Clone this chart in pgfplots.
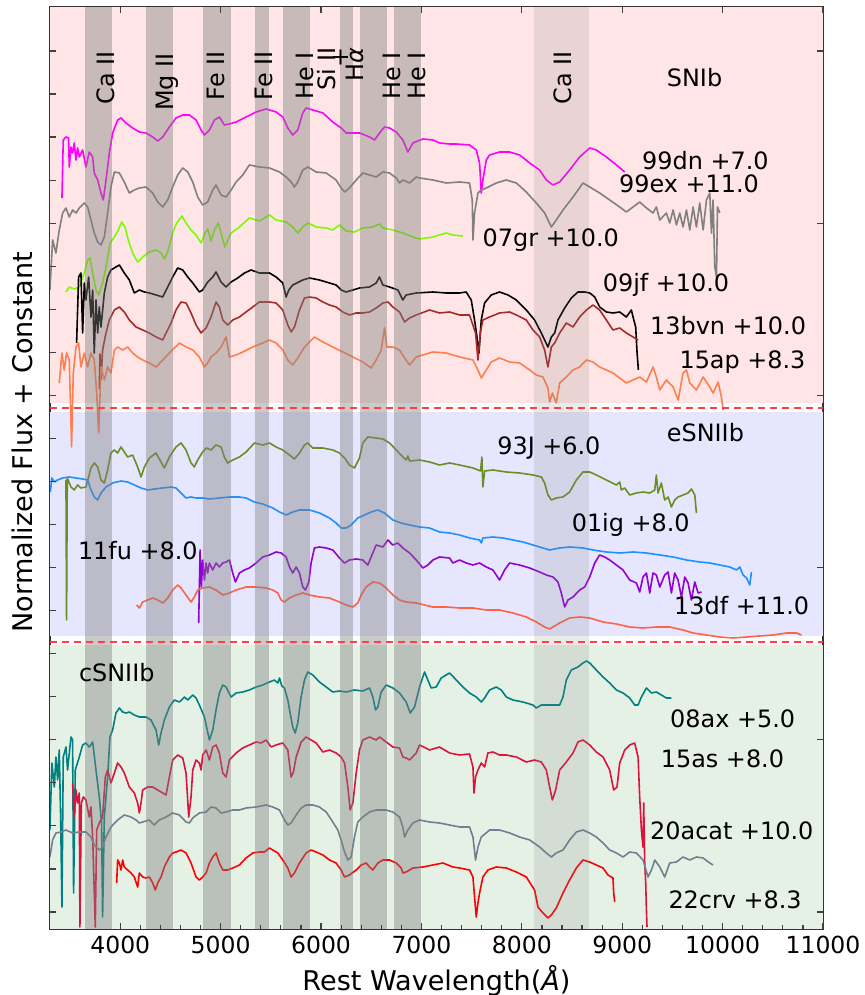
\documentclass[border=0pt]{standalone}
\usepackage{fontspec}
\setmainfont{DejaVu Sans}
\usepackage{pgfplots}
\pgfplotsset{compat=1.18}

\definecolor{bgpink}{RGB}{255,229,229}
\definecolor{bgblue}{RGB}{230,230,255}
\definecolor{bggreen}{RGB}{229,241,229}
\definecolor{cmag}{RGB}{255,0,255}
\definecolor{cgray}{RGB}{128,128,128}
\definecolor{clawn}{RGB}{124,252,0}
\definecolor{cbrown}{RGB}{165,42,42}
\definecolor{ccoral}{RGB}{255,127,80}
\definecolor{colive}{RGB}{107,142,35}
\definecolor{cdodger}{RGB}{30,144,255}
\definecolor{cviolet}{RGB}{148,0,211}
\definecolor{ctomato}{RGB}{255,99,71}
\definecolor{cteal}{RGB}{0,128,128}
\definecolor{ccrimson}{RGB}{220,20,60}
\definecolor{cslate}{RGB}{112,128,144}

\pgfplotsset{
  frameaxis/.style={
    scale only axis, width=386.5bp, height=461bp,
    xmin=3300, xmax=11000, ymin=0, ymax=922,
    scaled x ticks=false, scaled y ticks=false,
    tick align=inside,
    major tick length=3bp, minor tick length=2bp,
    every tick/.style={black!75, line width=0.6bp},
  }
}

\begin{document}
\begin{tikzpicture}
\begin{axis}[
  frameaxis,
  xtick={4000,5000,...,11000},
  ytick=\empty,
  xtick pos=left,
  axis line style={black!80, line width=0.8bp},
  /pgf/number format/1000 sep={},
  /pgf/number format/assume math mode=true,
  tick label style={font=\fontsize{11.8}{14}\selectfont},
  xticklabel style={anchor=base, yshift=-12bp},
  xlabel={Rest Wavelength(\textit{Å})},
  ylabel={Normalized Flux + Constant},
  label style={font=\fontsize{13.6}{16}\selectfont},
  xlabel style={at={(axis description cs:0.5,-0.0662)}, anchor=base},
  ylabel style={at={(axis description cs:-0.022,0.528)}, anchor=base},
  every axis plot/.append style={line width=0.8bp, mark=none, line join=round},
  clip=true,
]
% backgrounds
\fill[bgpink] (axis cs:3300,526) rectangle (axis cs:11000,922);
\fill[bgblue] (axis cs:3300,293) rectangle (axis cs:11000,517);
\fill[bggreen] (axis cs:3300,0) rectangle (axis cs:11000,284);

% 99dn
\addplot[cmag] table {
x y
3419 731
3432 789
3459 792
3485 791
3492 762
3509 782
3525 776
3542 786
3559 769
3575 781
3592 772
3625 779
3658 762
3691 777
3725 772
3741 756
3775 749
3808 736
3831 729
3858 749
3891 776
3924 796
3974 809
4007 811
4057 806
4123 801
4190 797
4256 796
4323 792
4373 788
4423 792
4489 802
4555 811
4622 814
4688 814
4755 809
4805 799
4838 794
4888 799
4938 809
4987 812
5037 804
5087 805
5154 807
5253 812
5353 817
5453 820
5552 817
5619 812
5669 801
5718 794
5768 799
5818 816
5851 821
5918 819
6018 816
6117 807
6200 801
6250 796
6317 796
6383 796
6483 792
6533 789
6583 796
6632 802
6682 801
6749 797
6815 789
6865 777
6915 786
7015 790
7114 789
7181 786
7280 785
7347 785
7479 784
7546 779
7579 766
7596 736
7612 749
7646 769
7679 774
7778 777
7878 777
7978 774
8078 766
8177 759
8244 749
8310 744
8377 747
8476 759
8576 772
8676 781
8742 779
8842 772
8942 764
9025 757
};

% 99ex
\addplot[cgray] table {
x y
3299 639
3326 689
3359 676
3392 699
3426 716
3459 721
3492 712
3525 719
3559 716
3592 721
3642 726
3675 722
3708 709
3741 696
3775 687
3808 684
3841 692
3874 716
3907 742
3941 757
3991 756
4040 747
4090 736
4140 739
4190 741
4256 742
4323 736
4373 727
4423 722
4472 729
4522 742
4572 754
4622 761
4672 757
4722 747
4771 732
4821 724
4871 727
4921 739
4954 744
5004 734
5054 732
5104 739
5154 747
5220 754
5286 764
5386 762
5486 761
5586 757
5652 752
5702 747
5735 742
5768 747
5818 759
5868 762
5951 757
6051 756
6150 749
6200 741
6234 737
6283 741
6350 749
6416 756
6483 754
6549 752
6616 757
6682 756
6749 751
6782 746
6815 749
6882 746
6948 752
6981 751
7114 749
7247 746
7380 747
7479 746
7506 729
7513 689
7529 716
7563 736
7596 739
7646 741
7745 746
7845 749
7945 746
8044 737
8144 726
8227 716
8294 702
8343 709
8410 719
8510 732
8609 746
8676 742
8775 736
8875 729
8975 722
9041 717
9108 722
9174 727
9241 721
9307 716
9340 722
9374 709
9440 716
9473 706
9507 719
9540 704
9573 716
9606 702
9640 719
9673 699
9706 722
9739 702
9772 726
9806 699
9839 729
9872 736
9889 696
9905 729
9922 662
9939 652
9949 722
9972 716
};

% 07gr
\addplot[clawn] table {
x y
3459 637
3492 642
3542 640
3592 642
3642 656
3675 669
3698 671
3725 656
3758 639
3785 634
3824 646
3858 662
3898 686
3941 692
3981 699
4014 707
4047 702
4080 689
4123 676
4173 667
4223 672
4289 677
4356 679
4406 676
4439 670
4472 677
4522 696
4562 706
4615 713
4655 706
4705 699
4755 694
4805 686
4845 696
4871 700
4904 688
4938 699
4977 706
5014 692
5041 682
5104 696
5187 702
5286 711
5386 708
5486 714
5552 709
5652 707
5718 702
5768 696
5818 702
5868 706
5951 702
6051 701
6117 699
6184 704
6250 698
6333 697
6416 701
6516 702
6582 705
6616 701
6715 699
6815 696
6915 692
6981 690
7114 692
7247 696
7313 694
7413 693
};

% 09jf
\addplot[black] table {
x y
3565 586
3585 652
3608 656
3625 596
3642 646
3658 629
3685 652
3708 612
3725 639
3741 576
3758 629
3775 596
3791 622
3808 602
3841 636
3874 652
3907 659
3957 662
3991 664
4040 656
4090 649
4140 636
4190 639
4240 637
4290 636
4356 634
4423 632
4472 642
4522 652
4572 661
4622 659
4672 652
4722 646
4788 637
4821 639
4871 647
4921 652
4954 657
5004 647
5054 642
5104 647
5170 651
5237 656
5303 659
5386 656
5486 656
5552 652
5619 646
5652 632
5679 639
5718 644
5818 649
5885 651
5984 649
6084 646
6150 644
6200 639
6250 637
6317 639
6383 641
6483 642
6549 646
6582 652
6616 644
6682 642
6765 639
6815 629
6848 634
6948 636
7114 637
7247 636
7380 636
7446 637
7496 629
7529 609
7553 592
7573 576
7596 609
7629 626
7695 634
7778 637
7862 634
7945 629
8044 619
8127 609
8194 596
8227 589
8260 582
8294 592
8327 596
8360 609
8427 621
8493 631
8559 637
8626 637
8676 636
8726 632
8775 622
8842 617
8908 616
8975 617
9041 612
9091 619
9108 612
9134 602
9148 576
9161 559
};

% 13bvn
\addplot[cbrown] table {
x y
3791 540
3798 575
3808 550
3824 579
3858 596
3891 609
3941 619
3991 622
4040 617
4090 609
4157 602
4223 599
4289 596
4356 592
4423 589
4456 596
4506 606
4555 619
4605 627
4655 626
4705 616
4755 604
4805 596
4855 601
4904 612
4954 627
4987 622
5021 609
5070 604
5120 609
5187 612
5253 617
5320 622
5386 627
5486 627
5552 626
5619 619
5669 604
5702 597
5735 602
5785 619
5835 631
5885 632
5951 631
6018 627
6084 624
6150 622
6217 617
6283 614
6350 616
6416 616
6483 617
6549 621
6616 626
6666 627
6715 622
6782 617
6832 607
6882 611
6948 614
7081 619
7180 616
7280 617
7380 614
7479 614
7539 596
7563 569
7586 596
7612 609
7679 612
7778 616
7878 617
7945 614
8044 609
8111 599
8177 592
8227 579
8260 562
8294 582
8327 586
8377 596
8443 606
8510 602
8576 612
8643 619
8709 624
8775 619
8842 609
8908 599
8975 601
9041 596
9108 592
9158 589
};

% 15ap
\addplot[ccoral] table {
x y
3392 546
3419 576
3442 559
3465 576
3492 569
3515 482
3532 556
3559 582
3585 586
3608 562
3642 576
3675 562
3708 576
3741 569
3765 536
3785 496
3808 562
3841 549
3874 562
3907 556
3941 579
3974 582
4024 579
4074 582
4123 576
4173 572
4223 569
4289 566
4356 562
4423 569
4489 576
4539 581
4589 586
4655 582
4722 579
4788 572
4838 562
4871 566
4904 572
4954 576
5004 582
5054 592
5087 572
5154 574
5220 577
5320 582
5419 586
5486 589
5552 586
5619 579
5669 569
5718 564
5768 571
5835 582
5934 592
6018 587
6117 582
6217 577
6317 572
6416 567
6499 561
6549 569
6599 579
6632 601
6656 582
6715 582
6782 579
6832 571
6882 564
6948 572
7114 577
7247 576
7380 572
7513 569
7563 559
7596 551
7646 559
7695 567
7778 571
7878 567
7978 566
8078 559
8144 554
8210 552
8260 541
8277 527
8304 536
8343 526
8377 546
8443 552
8510 559
8576 562
8643 569
8709 567
8775 562
8842 559
8908 556
8975 551
9041 546
9108 549
9174 552
9241 547
9307 562
9340 552
9374 539
9440 549
9507 542
9557 529
9606 556
9640 559
9673 546
9739 539
9806 552
9872 542
9905 536
9955 547
9988 532
10005 519
};

% 93J
\addplot[colive] table {
x y
3459 449
3465 309
3472 451
3509 442
3542 439
3575 444
3608 441
3658 442
3685 452
3708 461
3741 466
3775 462
3808 449
3841 446
3874 459
3907 476
3941 479
3974 476
4007 482
4040 477
4074 472
4123 474
4173 462
4207 452
4240 462
4290 471
4356 476
4406 467
4439 461
4489 472
4555 482
4605 486
4655 479
4705 466
4738 462
4771 469
4821 477
4855 481
4904 479
4954 484
5004 482
5037 472
5070 466
5120 469
5187 472
5253 477
5336 486
5419 484
5486 486
5552 482
5619 479
5685 474
5735 470
5785 476
5835 484
5868 486
5918 481
6018 481
6117 479
6184 476
6234 471
6283 464
6333 461
6383 471
6416 486
6466 492
6549 491
6616 490
6682 486
6749 479
6815 472
6848 469
6865 473
6882 468
6981 469
7081 467
7180 464
7280 466
7380 464
7513 461
7589 458
7602 472
7612 442
7629 458
7712 459
7845 457
7978 456
8111 454
8194 452
8227 446
8260 434
8294 429
8343 431
8410 432
8476 437
8543 449
8609 457
8676 457
8742 454
8842 449
8942 444
8975 447
8991 439
9025 441
9074 434
9141 436
9207 437
9274 436
9324 439
9340 454
9357 436
9390 446
9423 429
9457 432
9490 422
9523 429
9556 432
9606 434
9656 436
9689 440
9723 434
9739 416
};

% 01ig
\addplot[cdodger] table {
x y
3303 437
3319 451
3343 447
3376 449
3426 451
3492 452
3559 451
3625 450
3675 449
3708 439
3741 432
3775 429
3808 436
3858 442
3924 446
4007 448
4074 447
4140 444
4207 441
4273 439
4339 440
4423 441
4506 442
4555 441
4605 436
4655 431
4705 432
4755 431
4821 431
4888 430
4987 431
5087 432
5187 432
5253 431
5336 427
5419 425
5519 421
5586 417
5652 414
5718 417
5785 419
5885 419
5984 416
6084 411
6150 406
6200 401
6250 401
6300 404
6366 411
6433 414
6499 417
6566 419
6632 416
6715 409
6798 406
6882 404
6981 402
7081 401
7180 397
7280 396
7380 394
7479 391
7579 389
7596 386
7612 391
7712 392
7812 391
7912 389
8011 387
8111 384
8210 381
8277 379
8377 381
8476 382
8609 381
8709 379
8842 377
8975 376
9108 377
9241 376
9374 374
9507 372
9640 369
9772 367
9872 366
9972 364
10071 362
10138 359
10171 362
10204 354
10238 351
10271 344
10287 357
};

% 13df
\addplot[cviolet] table {
x y
4781 306
4795 379
4808 342
4821 369
4838 349
4855 366
4871 356
4888 366
4921 359
4954 366
4987 362
5021 366
5054 367
5087 369
5120 356
5147 347
5187 356
5237 359
5286 361
5353 366
5419 372
5486 374
5552 377
5602 376
5652 372
5685 362
5718 356
5752 362
5785 356
5818 342
5845 339
5878 347
5901 366
5934 381
5984 382
6051 381
6117 379
6184 371
6234 366
6283 369
6350 370
6416 369
6466 364
6499 372
6549 384
6616 382
6666 389
6715 384
6765 386
6815 381
6882 376
6948 369
7015 361
7064 364
7114 369
7181 372
7280 371
7313 366
7380 369
7446 366
7513 364
7579 366
7646 362
7712 359
7778 349
7828 359
7878 366
7978 364
8078 361
8177 357
8244 354
8310 352
8360 347
8393 336
8427 322
8460 329
8510 332
8576 339
8626 342
8676 352
8726 366
8775 374
8825 372
8875 369
8942 364
9008 359
9074 349
9141 346
9174 337
9207 352
9241 356
9274 336
9307 356
9340 354
9374 342
9423 354
9457 357
9490 336
9523 356
9556 349
9590 332
9623 352
9656 346
9689 329
9723 347
9756 336
9789 337
};

% 11fu
\addplot[ctomato] table {
x y
4163 324
4190 321
4223 327
4273 329
4323 331
4373 329
4423 326
4472 331
4522 339
4572 344
4605 341
4655 334
4705 327
4738 332
4771 339
4821 341
4888 342
4954 339
5021 334
5087 336
5154 339
5253 342
5353 342
5453 341
5519 339
5569 336
5602 329
5635 327
5685 331
5752 334
5818 336
5885 334
5984 332
6084 331
6184 327
6250 324
6317 322
6366 326
6400 334
6449 342
6516 347
6582 346
6649 341
6715 334
6782 329
6848 327
6948 326
7114 322
7247 322
7380 321
7513 321
7646 319
7778 319
7912 316
8044 312
8144 307
8227 302
8277 300
8310 302
8377 306
8476 311
8576 312
8676 311
8809 307
8942 305
9074 302
9207 301
9340 302
9473 302
9606 299
9706 296
9839 294
9972 292
10105 291
10238 292
10371 293
10504 294
10636 296
10736 296
10786 294
};

% 08ax
\addplot[cteal] table {
x y
3299 99
3319 166
3343 142
3359 172
3376 149
3392 179
3406 112
3419 22
3432 172
3459 182
3475 159
3509 192
3525 189
3535 36
3552 159
3592 172
3625 184
3658 186
3691 182
3725 187
3758 159
3791 132
3814 106
3824 12
3841 112
3874 152
3897 192
3924 199
3957 216
3991 221
4024 217
4057 216
4090 217
4140 214
4190 212
4256 212
4306 209
4356 199
4383 184
4406 196
4439 209
4489 222
4539 229
4589 227
4639 232
4672 229
4722 234
4755 231
4788 224
4838 212
4888 189
4921 199
4954 219
4987 236
5021 244
5054 242
5104 232
5154 236
5220 237
5286 239
5353 242
5419 244
5486 247
5536 249
5569 246
5586 251
5609 243
5635 241
5669 229
5692 216
5718 202
5742 196
5768 206
5801 232
5835 249
5868 257
5918 254
5984 247
6051 242
6117 237
6184 238
6250 237
6333 239
6416 238
6483 241
6516 232
6543 219
6566 222
6599 237
6649 244
6715 241
6782 236
6848 227
6888 216
6931 222
6981 242
7031 257
7097 241
7147 242
7197 251
7280 256
7347 249
7413 242
7479 236
7546 232
7596 227
7629 231
7679 239
7745 242
7795 239
7845 232
7912 229
8011 227
8111 224
8144 221
8194 224
8277 224
8343 224
8377 224
8410 232
8443 249
8493 259
8559 262
8609 266
8643 268
8676 266
8742 259
8809 252
8875 246
8942 239
9008 236
9074 231
9124 224
9158 224
9191 232
9241 241
9291 236
9340 237
9390 234
9440 231
9490 231
};

% 15as
\addplot[ccrimson] table {
x y
3525 146
3542 112
3559 139
3575 126
3592 136
3598 2
3612 126
3632 132
3658 129
3691 112
3708 122
3725 92
3751 2
3765 99
3791 106
3824 112
3851 152
3874 159
3907 146
3941 156
3974 166
4007 162
4040 156
4090 142
4140 136
4173 126
4190 116
4207 126
4223 139
4273 142
4323 142
4373 139
4423 136
4456 134
4489 152
4522 169
4572 174
4622 171
4655 156
4682 112
4705 132
4722 159
4755 169
4788 166
4805 159
4821 174
4855 179
4888 169
4921 182
4954 184
4987 176
5021 156
5054 152
5087 169
5154 176
5220 181
5286 184
5353 187
5403 186
5453 189
5502 182
5552 184
5619 186
5669 179
5702 152
5725 157
5752 172
5802 187
5851 192
5901 189
5951 186
6018 177
6084 179
6150 176
6200 172
6234 166
6267 142
6290 119
6317 126
6350 156
6383 179
6416 189
6483 192
6549 189
6582 192
6649 187
6715 182
6782 181
6815 172
6848 171
6882 169
6948 176
6981 184
7081 179
7180 182
7280 176
7380 174
7479 175
7513 162
7523 136
7539 152
7563 159
7596 166
7629 162
7662 176
7712 177
7778 174
7845 174
7945 172
8044 167
8127 169
8194 167
8244 159
8277 142
8304 129
8337 139
8377 159
8443 167
8510 176
8559 187
8609 189
8676 184
8742 177
8809 172
8875 159
8915 139
8948 142
8975 166
9025 179
9074 184
9124 186
9158 172
9174 132
9191 99
9207 82
9214 126
9224 66
9234 46
9241 19
9247 2
};

% 20acat
\addplot[cslate] table {
x y
3299 72
3326 89
3359 96
3409 97
3459 99
3525 96
3592 97
3658 97
3708 92
3741 84
3791 79
3824 82
3858 92
3907 102
3974 109
4040 114
4107 112
4157 109
4190 106
4223 107
4289 109
4339 104
4389 109
4456 112
4522 116
4589 114
4655 107
4688 106
4722 111
4788 116
4855 117
4904 122
4954 121
5004 116
5054 117
5120 119
5187 119
5253 121
5353 122
5453 124
5519 122
5586 119
5635 109
5669 104
5702 106
5752 114
5802 121
5851 124
5918 124
5984 122
6051 117
6117 107
6167 99
6200 89
6234 77
6267 69
6300 72
6333 92
6366 107
6416 112
6483 117
6549 119
6649 119
6715 117
6782 112
6815 102
6832 92
6865 99
6915 106
6981 109
7081 107
7180 106
7280 104
7380 102
7479 102
7513 92
7539 69
7563 82
7596 92
7679 99
7778 99
7878 96
7978 92
8078 89
8177 82
8244 76
8294 72
8343 76
8410 79
8476 89
8543 97
8609 99
8676 96
8742 92
8809 86
8875 79
8942 76
9008 72
9074 77
9141 76
9207 69
9257 52
9291 59
9324 69
9374 62
9423 52
9473 66
9540 67
9606 72
9673 69
9739 72
9806 71
9872 66
9905 64
};

% 22crv
\addplot[red] table {
x y
3964 46
3974 69
3991 66
4007 59
4024 69
4040 62
4074 59
4107 56
4140 52
4173 42
4190 56
4223 52
4256 51
4290 52
4323 46
4349 39
4373 46
4406 52
4439 62
4489 72
4522 76
4555 77
4605 79
4655 76
4705 66
4755 52
4788 49
4821 52
4855 56
4888 66
4921 72
4954 76
4987 66
5021 59
5070 59
5120 61
5187 64
5253 71
5320 76
5386 77
5436 77
5486 81
5519 79
5569 76
5619 69
5669 61
5702 52
5735 56
5785 66
5851 76
5901 79
5951 77
6018 74
6084 69
6150 66
6200 59
6234 52
6283 54
6350 59
6400 64
6449 66
6483 62
6516 59
6566 66
6616 69
6682 69
6749 66
6798 61
6815 56
6848 57
6915 61
7015 62
7114 64
7214 66
7314 62
7380 61
7479 59
7513 52
7529 32
7546 12
7563 26
7579 36
7612 52
7662 59
7745 62
7845 61
7945 57
8044 52
8127 39
8161 22
8210 16
8260 11
8294 14
8343 21
8410 36
8476 49
8543 61
8609 69
8676 67
8742 64
8809 61
8858 54
8892 52
8908 51
8915 36
8925 27
};

% line bands
\fill[gray, opacity=0.42] (axis cs:3650,0) rectangle (axis cs:3920,922);
\fill[gray, opacity=0.42] (axis cs:4256,0) rectangle (axis cs:4529,922);
\fill[gray, opacity=0.42] (axis cs:4828,0) rectangle (axis cs:5104,922);
\fill[gray, opacity=0.42] (axis cs:5346,0) rectangle (axis cs:5479,922);
\fill[gray, opacity=0.42] (axis cs:5619,0) rectangle (axis cs:5892,922);
\fill[gray, opacity=0.42] (axis cs:6190,0) rectangle (axis cs:6323,922);
\fill[gray, opacity=0.42] (axis cs:6383,0) rectangle (axis cs:6656,922);
\fill[gray, opacity=0.42] (axis cs:6722,0) rectangle (axis cs:6998,922);
\fill[gray, opacity=0.17] (axis cs:8121,0) rectangle (axis cs:8666,922);

% separators
\draw[red!75, line width=1bp, dash pattern=on 3.5bp off 2.5bp] (axis cs:3300,521) -- (axis cs:11000,521);
\draw[red!75, line width=1bp, dash pattern=on 3.5bp off 2.5bp] (axis cs:3300,287) -- (axis cs:11000,287);

% line labels
\begin{scope}[every node/.style={font=\fontsize{12}{14}\selectfont, rotate=90, anchor=east, inner sep=0pt}]
\node at (axis cs:3851,878) {Ca II};
\node at (axis cs:4469,876) {Mg II};
\node at (axis cs:4958,878) {Fe II};
\node at (axis cs:5436,878) {Fe II};
\node at (axis cs:5835,877) {He I};
\node at (axis cs:6054,882) {Si II};
\node at (axis cs:6194,882) {+};
\node at (axis cs:6333,882) {H\textit{α}};
\node at (axis cs:6702,877) {He I};
\node at (axis cs:6951,877) {He I};
\node at (axis cs:8407,878) {Ca II};
\end{scope}

% spectrum labels
\begin{scope}[every node/.style={font=\fontsize{12}{14}\selectfont, anchor=base west, inner sep=0pt}]
\node at (axis cs:9441,842) {SNIb};
\node at (axis cs:9195,759) {99dn +7.0};
\node at (axis cs:8965,736) {99ex +11.0};
\node at (axis cs:7606,682) {07gr +10.0};
\node at (axis cs:8803,637) {09jf +10.0};
\node at (axis cs:9275,594) {13bvn +10.0};
\node at (axis cs:9567,560) {15ap +8.3};
\node at (axis cs:9441,487) {eSNIIb};
\node at (axis cs:7752,474) {93J +6.0};
\node at (axis cs:8494,397) {01ig +8.0};
\node at (axis cs:3575,369) {11fu +8.0};
\node at (axis cs:9514,314) {13df +11.0};
\node at (axis cs:3585,247) {cSNIIb};
\node at (axis cs:9474,201) {08ax +5.0};
\node at (axis cs:9381,161) {15as +8.0};
\node at (axis cs:9275,89) {20acat +10.0};
\node at (axis cs:9457,21) {22crv +8.3};
\end{scope}
\end{axis}

% ticks drawn over the shading: bottom and left
\begin{axis}[
  frameaxis,
  xtick={4000,5000,...,11000}, minor x tick num=4, xticklabels={},
  ytick={17,60.05,...,880}, yticklabels={},
  xtick pos=left, ytick pos=left,
  axis line style={draw=none},
]
\end{axis}

% ticks: top and right
\begin{axis}[
  frameaxis,
  xtick={4000,5000,...,11000}, xticklabels={},
  ytick={17,189.2,361.4,533.6,705.8,878}, yticklabels={},
  xtick pos=right, ytick pos=right,
  axis line style={draw=none},
]
\end{axis}

\pgfresetboundingbox
\path[use as bounding box] (-25bp,-33bp) rectangle (407.5bp,464.5bp);
\end{tikzpicture}
\end{document}
